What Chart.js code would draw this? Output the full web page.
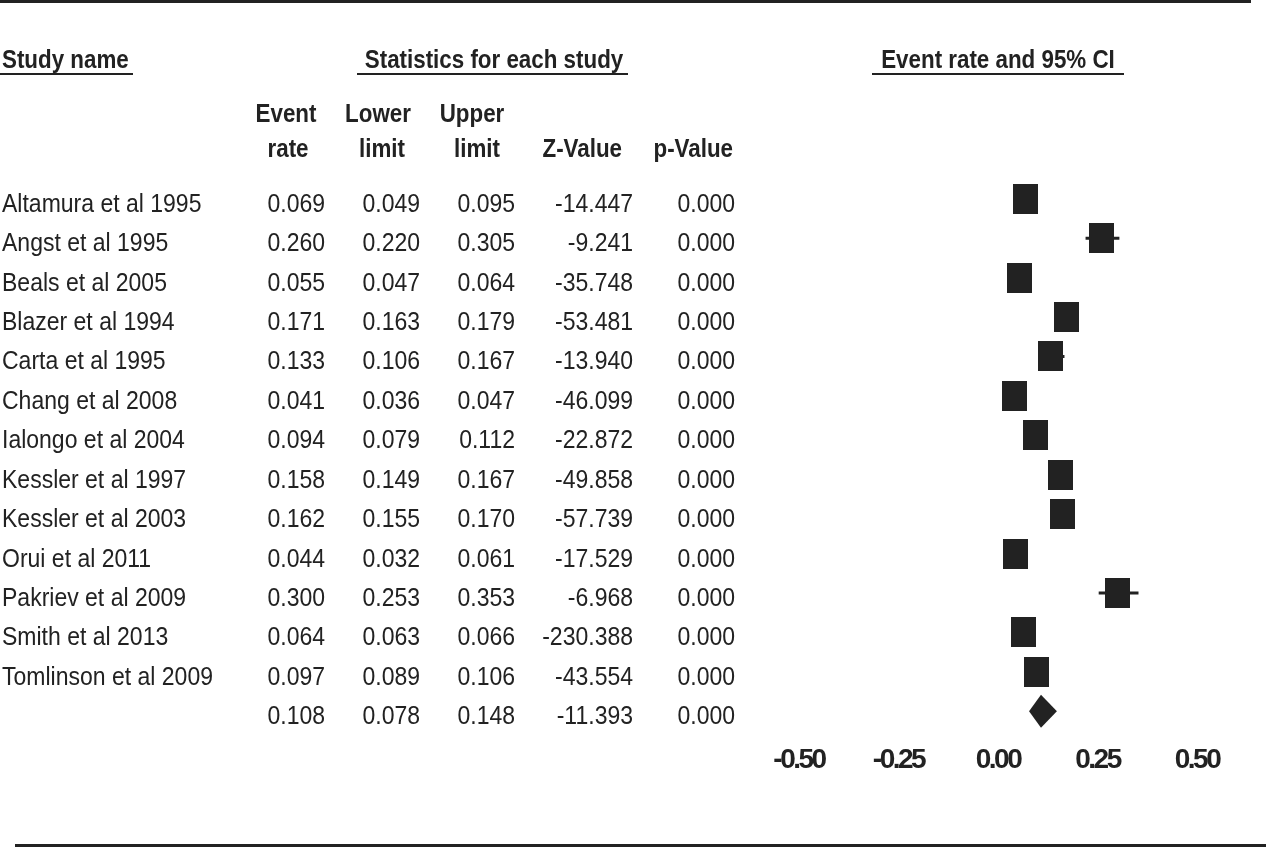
<!DOCTYPE html>
<html>
<head>
<meta charset="utf-8">
<script src="https://cdn.jsdelivr.net/npm/chart.js@4.4.1/dist/chart.umd.min.js"></script>
<style>
  html, body { margin: 0; padding: 0; background: #fff; }
  #wrap { width: 1266px; height: 847px; }
</style>
</head>
<body>
<div id="wrap"><canvas id="forest" width="1266" height="847"></canvas></div>
<script>
// data
const studies = ["Altamura et al 1995","Angst et al 1995","Beals et al 2005","Blazer et al 1994","Carta et al 1995","Chang et al 2008","Ialongo et al 2004","Kessler et al 1997","Kessler et al 2003","Orui et al 2011","Pakriev et al 2009","Smith et al 2013","Tomlinson et al 2009"];
const eventRate  = [0.069,0.260,0.055,0.171,0.133,0.041,0.094,0.158,0.162,0.044,0.300,0.064,0.097];
const lowerLimit = [0.049,0.220,0.047,0.163,0.106,0.036,0.079,0.149,0.155,0.032,0.253,0.063,0.089];
const upperLimit = [0.095,0.305,0.064,0.179,0.167,0.047,0.112,0.167,0.170,0.061,0.353,0.066,0.106];
const zValue     = [-14.447,-9.241,-35.748,-53.481,-13.940,-46.099,-22.872,-49.858,-57.739,-17.529,-6.968,-230.388,-43.554];
const pValue     = [0,0,0,0,0,0,0,0,0,0,0,0,0];
// pooled estimate (last row, shown as a diamond)
const pooledRate = 0.108, pooledLower = 0.078, pooledUpper = 0.148, pooledZ = -11.393, pooledP = 0.000;
const xTicks = [-0.50,-0.25,0.00,0.25,0.50];

const ink = "#222";
const fam = '"Liberation Sans", Arial, sans-serif';
const nRows = studies.length + 1;

// square marker
const sq = document.createElement("canvas");
sq.width = 25; sq.height = 30;
const sctx = sq.getContext("2d");
sctx.fillStyle = ink; sctx.fillRect(0, 0, 25, 30);

// whiskers: pairs of points, broken by null
const whiskers = [];
studies.forEach((s, i) => {
  whiskers.push({x: lowerLimit[i], y: i}, {x: upperLimit[i], y: i}, {x: upperLimit[i], y: null});
});

// narrow text, like the condensed face of the original
function txt(ctx, s, x, y, align, sx) {
  ctx.save();
  ctx.translate(x, y);
  ctx.scale(sx, 1);
  ctx.textAlign = align;
  ctx.fillText(s, 0, 0);
  ctx.restore();
}

const tablePlugin = {
  id: "table",
  beforeDraw(chart) {
    chart.ctx.letterSpacing = "-2.5px";
  },
  afterDatasetsDraw(chart) {
    const ctx = chart.ctx, x = chart.scales.x, y = chart.scales.y;
    const cy = y.getPixelForValue(studies.length);
    ctx.save();
    ctx.fillStyle = ink;
    ctx.beginPath();
    ctx.moveTo(x.getPixelForValue(pooledLower), cy);
    ctx.lineTo(x.getPixelForValue(pooledRate), cy - 16.5);
    ctx.lineTo(x.getPixelForValue(pooledUpper), cy);
    ctx.lineTo(x.getPixelForValue(pooledRate), cy + 16.5);
    ctx.closePath();
    ctx.fill();
    ctx.restore();
  },
  afterDraw(chart) {
    const ctx = chart.ctx, y = chart.scales.y;
    ctx.save();
    ctx.fillStyle = ink;
    ctx.letterSpacing = "0px";
    ctx.textBaseline = "alphabetic";
    // rules
    ctx.fillRect(0, 0, 1251, 3);
    ctx.fillRect(15, 844, 1251, 3);

    // headers
    const hs = 0.86;
    ctx.font = "bold 26px " + fam;
    txt(ctx, "Study name", 2, 68, "left", hs);
    ctx.fillRect(0, 73, 133, 2);
    txt(ctx, "Statistics for each study", 494, 68, "center", hs);
    ctx.fillRect(357, 73, 271, 2);
    txt(ctx, "Event rate and 95% CI", 998, 68, "center", hs);
    ctx.fillRect(872, 73, 252, 2);

    txt(ctx, "Event", 286, 122, "center", hs); txt(ctx, "rate", 288, 157, "center", hs);
    txt(ctx, "Lower", 378, 122, "center", hs); txt(ctx, "limit", 382, 157, "center", hs);
    txt(ctx, "Upper", 472, 122, "center", hs); txt(ctx, "limit", 477, 157, "center", hs);
    txt(ctx, "Z-Value", 622, 157, "right", hs);
    txt(ctx, "p-Value", 733, 157, "right", hs);

    // rows
    const rs = 0.92;
    ctx.font = "25px " + fam;
    const cols = [325, 420, 515, 633, 735];
    for (let i = 0; i < nRows; i++) {
      const by = y.getPixelForValue(i) + 13;
      const pooled = i === studies.length;
      const vals = pooled
        ? [pooledRate, pooledLower, pooledUpper, pooledZ, pooledP]
        : [eventRate[i], lowerLimit[i], upperLimit[i], zValue[i], pValue[i]];
      if (!pooled) txt(ctx, studies[i], 2, by, "left", rs);
      vals.forEach((v, k) => txt(ctx, v.toFixed(3), cols[k], by, "right", rs));
    }
    ctx.restore();
  }
};

new Chart(document.getElementById("forest"), {
  data: {
    datasets: [
      {
        type: "line",
        data: whiskers,
        borderColor: ink,
        borderWidth: 3,
        pointRadius: 0,
        spanGaps: false,
        order: 1
      },
      {
        type: "scatter",
        data: eventRate.map((v, i) => ({x: v, y: i})),
        pointStyle: sq,
        backgroundColor: ink,
        order: 0
      }
    ]
  },
  options: {
    responsive: false,
    animation: false,
    events: [],
    layout: { padding: { top: 179, left: 799, right: 69, bottom: 56 } },
    plugins: { legend: { display: false }, tooltip: { enabled: false } },
    scales: {
      x: {
        type: "linear",
        min: -0.5,
        max: 0.5,
        grid: { display: false, drawTicks: false },
        border: { display: false },
        afterBuildTicks: s => { s.ticks = xTicks.map(v => ({value: v})); },
        afterFit: s => { s.height = 60; },
        ticks: {
          color: ink,
          padding: 12,
          maxRotation: 0,
          font: { family: fam, size: 28, weight: "bold" },
          callback: v => Number(v).toFixed(2)
        }
      },
      y: {
        type: "linear",
        display: false,
        reverse: true,
        min: -0.5,
        max: nRows - 0.5
      }
    }
  },
  plugins: [tablePlugin]
});
</script>
</body>
</html>
